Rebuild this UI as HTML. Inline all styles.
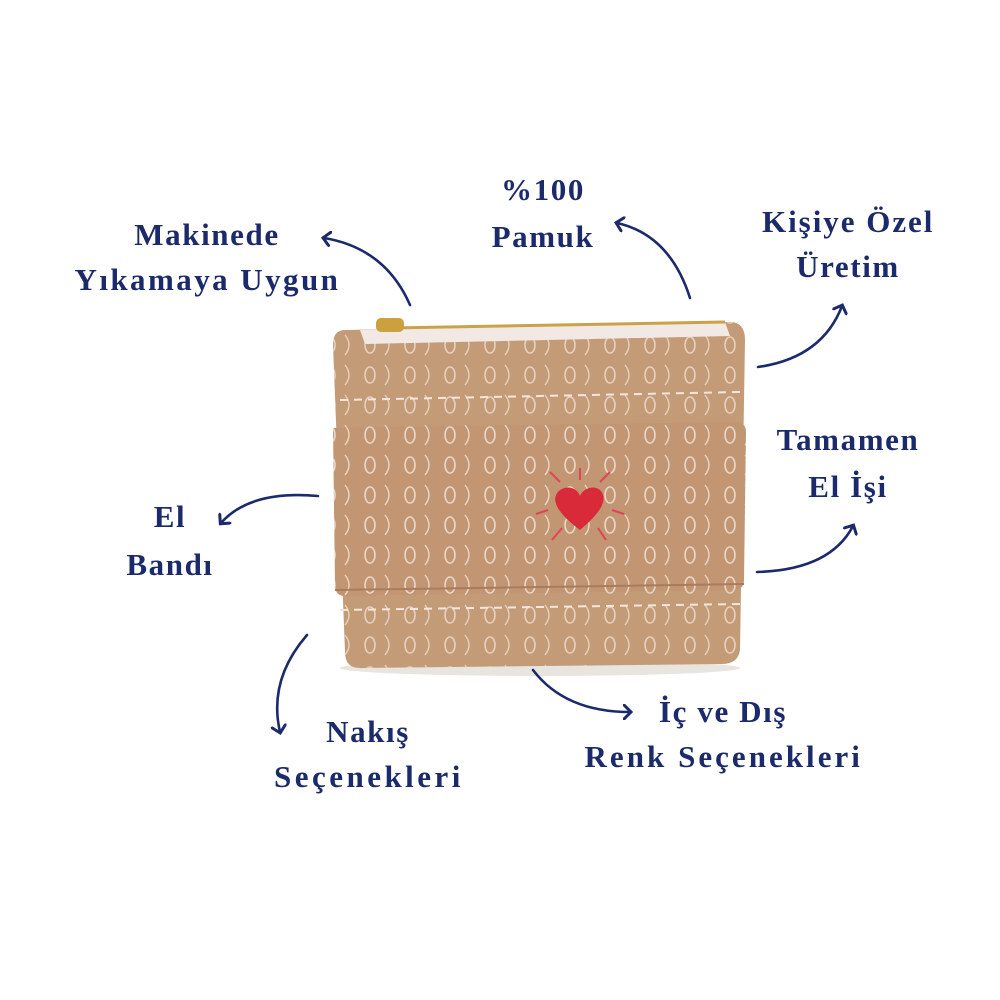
<!DOCTYPE html>
<html><head><meta charset="utf-8"><style>
html,body{margin:0;padding:0;background:#fff;}
svg{display:block}
text{font-family:"Liberation Serif",serif;font-weight:bold;fill:#1b2a6b;font-size:31px;letter-spacing:1.6px;text-anchor:middle;}
</style></head><body>
<svg width="1000" height="1000" viewBox="0 0 1000 1000" xmlns="http://www.w3.org/2000/svg">
<defs>
<marker id="a" markerWidth="16" markerHeight="16" refX="7" refY="8" orient="auto" markerUnits="userSpaceOnUse" viewBox="0 0 16 16">
<path d="M0,0 L8,8 L0,16" fill="none" stroke="#1b2a6b" stroke-width="3"/>
</marker>
<pattern id="p" width="40" height="30" patternUnits="userSpaceOnUse">
<ellipse cx="10" cy="15" rx="5" ry="8" fill="none" stroke="#f4e6dc" stroke-width="1.6"/>
<path d="M25 5 q8 10 0 20" fill="none" stroke="#f4e6dc" stroke-width="1.4"/>
</pattern>
</defs>
<rect width="1000" height="1000" fill="#fff"/>
<ellipse cx="540" cy="668" rx="200" ry="8" fill="#e8e4e0"/>
<path d="M345 330 L730 322 Q745 322 745 340 L740 650 Q738 664 722 664 L360 668 Q345 668 345 652 L333 345 Q333 330 345 330 Z" fill="#c49b77"/>
<path d="M345 330 L730 322 Q745 322 745 340 L740 650 Q738 664 722 664 L360 668 Q345 668 345 652 L333 345 Q333 330 345 330 Z" fill="url(#p)" opacity="0.7"/>
<path d="M360 330 L725 322 L730 336 L365 344 Z" fill="#f2e8e4"/>
<line x1="390" y1="328" x2="725" y2="322" stroke="#c9a24a" stroke-width="3"/>
<rect x="376" y="318" width="28" height="14" rx="5" fill="#caa13e"/>
<path d="M333 428 L735 422 Q746 422 746 432 L744 580 Q744 590 733 590 L345 596 Q335 596 335 585 Z" fill="#c29673"/>
<path d="M333 428 L735 422 Q746 422 746 432 L744 580 Q744 590 733 590 L345 596 Q335 596 335 585 Z" fill="url(#p)" opacity="0.8"/>
<path d="M335 590 L744 584" stroke="#a87c5c" stroke-width="2"/>
<path d="M340 610 L740 604" stroke="#f4e6dc" stroke-width="2" stroke-dasharray="8 6"/>
<path d="M340 400 L740 392" stroke="#f4e6dc" stroke-width="2" stroke-dasharray="8 6"/>
<path d="M580 530 C560 515 548 500 560 490 C570 484 578 490 580 496 C582 490 592 484 600 490 C610 500 598 515 580 530 Z" fill="#d92a3a"/>
<g stroke="#e0445a" stroke-width="2">
<line x1="580" y1="480" x2="580" y2="468"/><line x1="560" y1="482" x2="550" y2="472"/>
<line x1="600" y1="482" x2="610" y2="472"/><line x1="548" y1="510" x2="536" y2="514"/>
<line x1="612" y1="510" x2="624" y2="514"/><line x1="562" y1="528" x2="552" y2="540"/>
<line x1="598" y1="528" x2="606" y2="540"/>
</g>
<g fill="none" stroke="#1b2a6b" stroke-width="2.6" stroke-linecap="round">
<path d="M410 305 Q385 248 324 238" marker-end="url(#a)"/>
<path d="M690 298 Q670 235 617 223" marker-end="url(#a)"/>
<path d="M758 367 Q822 358 842 306" marker-end="url(#a)"/>
<path d="M318 496 Q250 490 221 523" marker-end="url(#a)"/>
<path d="M757 572 Q830 570 853 526" marker-end="url(#a)"/>
<path d="M307 635 Q268 680 280 732" marker-end="url(#a)"/>
<path d="M533 670 Q565 712 630 712" marker-end="url(#a)"/>
</g>
<text x="207" y="245">Makinede</text>
<text x="207" y="290" textLength="265">Yıkamaya Uygun</text>
<text x="543" y="200">%100</text>
<text x="543" y="247">Pamuk</text>
<text x="848" y="232" textLength="172">Kişiye Özel</text>
<text x="848" y="277">Üretim</text>
<text x="848" y="450">Tamamen</text>
<text x="848" y="497">El İşi</text>
<text x="170" y="527">El</text>
<text x="170" y="575">Bandı</text>
<text x="368" y="742">Nakış</text>
<text x="368" y="787" textLength="188">Seçenekleri</text>
<text x="723" y="722">İç ve Dış</text>
<text x="723" y="767" textLength="277">Renk Seçenekleri</text>
</svg>
</body></html>
